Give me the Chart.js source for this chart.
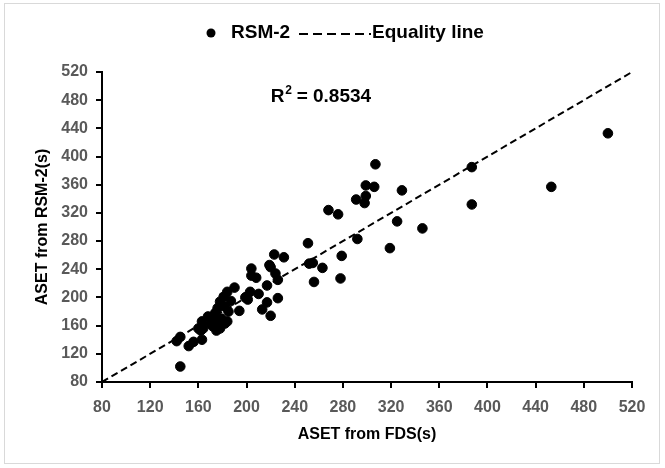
<!DOCTYPE html>
<html>
<head>
<meta charset="utf-8">
<script src="https://cdn.jsdelivr.net/npm/chart.js@4.4.1/dist/chart.umd.min.js"></script>
<style>
  html, body { margin: 0; padding: 0; background: #fff; }
  #wrap { position: relative; width: 665px; height: 468px; }
  #frame { position: absolute; left: 4px; top: 3px; width: 656px; height: 461px; border: 1px solid #d9d9d9; box-sizing: border-box; pointer-events: none; }
  canvas { display: block; }
</style>
</head>
<body>
<div id="wrap">
  <canvas id="asetChart" width="665" height="468"></canvas>
  <div id="frame"></div>
</div>
<script>
// ASET from FDS (x) vs ASET from RSM-2 (y), seconds
const fdsAset = [
  500, 453, 387, 387, 307, 299, 306, 299, 298, 291, 329, 268, 276, 251,
  292, 325, 346, 319, 279, 252, 255, 263, 256, 278, 223, 231, 204, 219,
  220, 204, 208, 224, 226, 217, 190, 184, 210, 203, 200, 226, 199, 201,
  217, 213, 194, 220, 184, 175, 162, 163, 156, 152, 145, 142, 145, 181,
  178, 182, 176, 174, 185, 168, 179, 182, 170, 163, 164, 178, 160, 172,
  175, 187, 172
];
const rsmAset = [
  433, 357, 385, 332, 389, 359, 357, 344, 334, 339, 352, 324, 318, 277,
  283, 308, 298, 270, 259, 248, 249, 242, 222, 227, 261, 257, 241, 246,
  243, 231, 228, 234, 225, 217, 214, 208, 205, 208, 201, 199, 200, 197,
  193, 183, 181, 174, 166, 153, 153, 140, 137, 131, 144, 138, 102, 201,
  194, 187, 185, 178, 180, 173, 170, 163, 163, 166, 156, 156, 156, 168,
  165, 195, 159
];
const equalityLine = [80, 520];
const axisTicks = [80, 120, 160, 200, 240, 280, 320, 360, 400, 440, 480, 520];
const rSquared = '0.8534';

const scatterPoints = fdsAset.map((x, i) => ({ x: x, y: rsmAset[i] }));
const linePoints = equalityLine.map(v => ({ x: v, y: v }));

const tickFont = { family: 'Liberation Sans', size: 16, weight: 'bold' };
const titleFont = { family: 'Liberation Sans', size: 16, weight: 'bold' };

// legend and R² label drawn by hand
const extrasPlugin = {
  id: 'extras',
  afterDraw(chart) {
    const c = chart.ctx;
    c.save();
    c.fillStyle = '#000';
    c.strokeStyle = '#000';
    c.font = 'bold 19px "Liberation Sans"';
    c.textBaseline = 'middle';
    c.beginPath();
    c.arc(211, 33, 4.5, 0, Math.PI * 2);
    c.fill();
    c.fillText('RSM-2', 231, 33);
    c.lineWidth = 2;
    c.setLineDash([9, 5]);
    c.beginPath();
    c.moveTo(299, 34);
    c.lineTo(371, 34);
    c.stroke();
    c.setLineDash([]);
    c.fillText('Equality line', 372, 33);

    const xs = chart.scales.x, ys = chart.scales.y;
    c.font = 'bold 19px "Liberation Sans"';
    c.textBaseline = 'alphabetic';
    const px = xs.getPixelForValue(220);
    const py = ys.getPixelForValue(477);
    c.fillText('R', px, py);
    const rw = c.measureText('R').width;
    c.font = 'bold 12px "Liberation Sans"';
    c.fillText('2', px + rw + 1, py - 8);
    c.font = 'bold 19px "Liberation Sans"';
    c.fillText(' = ' + rSquared, px + rw + 7, py);
    c.restore();
  }
};

new Chart(document.getElementById('asetChart'), {
  type: 'scatter',
  data: {
    datasets: [
      {
        label: 'RSM-2',
        data: scatterPoints,
        backgroundColor: '#000',
        borderColor: '#000',
        pointRadius: 4.8,
        pointHoverRadius: 4.8
      },
      {
        label: 'Equality line',
        type: 'line',
        data: linePoints,
        borderColor: '#000',
        borderWidth: 2,
        borderDash: [7, 4],
        pointRadius: 0,
        fill: false
      }
    ]
  },
  options: {
    responsive: false,
    animation: false,
    events: [],
    layout: { padding: { top: 72, right: 33, left: 29, bottom: 20 } },
    plugins: {
      legend: { display: false },
      tooltip: { enabled: false }
    },
    scales: {
      x: {
        type: 'linear',
        min: 80,
        max: 520,
        afterBuildTicks: s => { s.ticks = axisTicks.map(v => ({ value: v })); },
        afterFit: s => { s.height = 66; },
        border: { color: '#000', width: 2 },
        grid: { drawOnChartArea: false, drawTicks: true, tickLength: 6, color: '#000', lineWidth: 2 },
        ticks: { color: '#595959', font: tickFont, padding: 10, maxRotation: 0 },
        title: { display: true, text: 'ASET from FDS(s)', color: '#000', font: titleFont, padding: { top: 0 } }
      },
      y: {
        type: 'linear',
        min: 80,
        max: 520,
        afterBuildTicks: s => { s.ticks = axisTicks.map(v => ({ value: v })); },
        afterFit: s => { s.width = 73; },
        border: { color: '#000', width: 2 },
        grid: { drawOnChartArea: false, drawTicks: true, tickLength: 6, color: '#000', lineWidth: 2 },
        ticks: { color: '#595959', font: tickFont, padding: 8 },
        title: { display: true, text: 'ASET from RSM-2(s)', color: '#000', font: titleFont, padding: { bottom: 0 } }
      }
    }
  },
  plugins: [extrasPlugin]
});
</script>
</body>
</html>
